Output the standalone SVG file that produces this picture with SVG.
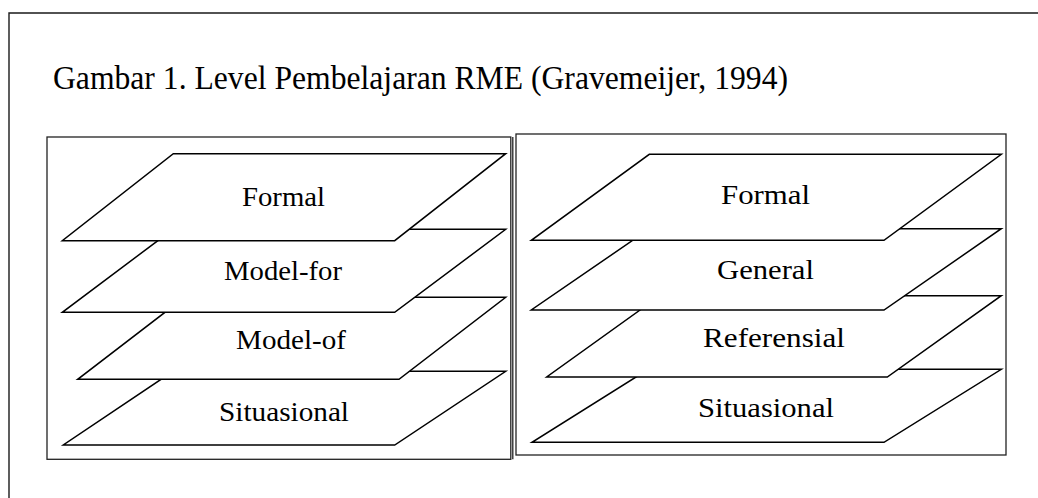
<svg xmlns="http://www.w3.org/2000/svg" width="1038" height="498" viewBox="0 0 1038 498">
  <style>
    .frame { fill: none; stroke: #1a1a1a; stroke-width: 1.4; }
    .box { fill: none; stroke: #222; stroke-width: 1.3; }
    .plane { fill: #fff; stroke: #000; stroke-width: 1.5; stroke-linejoin: miter; }
    .lbl { font-family: "Liberation Serif", "Times New Roman", serif; font-size: 26.5px; fill: #000; }
    .title { font-family: "Liberation Serif", "Times New Roman", serif; font-size: 33.5px; fill: #000; }
  </style>
  <rect width="1038" height="498" fill="#fff"/>
  <g id="outer-frame">
    <path class="frame" d="M9,498 V13 H1038"/>
  </g>
  <g id="title">
    <text class="title" x="53" y="88.5" textLength="735" lengthAdjust="spacingAndGlyphs">Gambar 1. Level Pembelajaran RME (Gravemeijer, 1994)</text>
  </g>
  <g id="left-panel">
    <rect class="box" x="47" y="137" width="463.8" height="322.3"/>
    <line class="box" x1="512.8" y1="137" x2="512.8" y2="459.3"/>
    <g id="left-situational">
      <polygon class="plane" points="173,371.3 505.7,371.3 394.7,445 63.3,445"/>
      <text class="lbl" x="219" y="421" textLength="130" lengthAdjust="spacingAndGlyphs">Situasional</text>
    </g>
    <g id="left-model-of">
      <polygon class="plane" points="184.5,297.3 505.7,297.3 399,379.3 77.7,379.3"/>
      <text class="lbl" x="236" y="349" textLength="110" lengthAdjust="spacingAndGlyphs">Model-of</text>
    </g>
    <g id="left-model-for">
      <polygon class="plane" points="173,229.3 505.7,229.3 394.7,312.3 62.3,312.3"/>
      <text class="lbl" x="224" y="280" textLength="118" lengthAdjust="spacingAndGlyphs">Model-for</text>
    </g>
    <g id="left-formal">
      <polygon class="plane" points="173.3,153.7 505.7,153.7 394.7,240.7 62.3,240.7"/>
      <text class="lbl" x="242" y="206" textLength="83" lengthAdjust="spacingAndGlyphs">Formal</text>
    </g>
  </g>
  <g id="right-panel">
    <rect class="box" x="516" y="134" width="490" height="321"/>
    <g id="right-situational">
      <polygon class="plane" points="648.3,369.3 1001.3,369.3 884,442.3 532,442.3"/>
      <text class="lbl" x="698" y="417" textLength="136" lengthAdjust="spacingAndGlyphs">Situasional</text>
    </g>
    <g id="right-referensial">
      <polygon class="plane" points="660,295.7 1001.3,295.7 887.3,377 546.7,377"/>
      <text class="lbl" x="703" y="347" textLength="142" lengthAdjust="spacingAndGlyphs">Referensial</text>
    </g>
    <g id="right-general">
      <polygon class="plane" points="649.6,228.7 1001.3,228.7 884,310 531.3,310"/>
      <text class="lbl" x="717" y="279" textLength="97" lengthAdjust="spacingAndGlyphs">General</text>
    </g>
    <g id="right-formal">
      <polygon class="plane" points="649.3,154.3 1001.3,154.3 884,240.3 531.3,240.3"/>
      <text class="lbl" x="721" y="204" textLength="89" lengthAdjust="spacingAndGlyphs">Formal</text>
    </g>
  </g>
  <g id="connectors"></g>
</svg>
